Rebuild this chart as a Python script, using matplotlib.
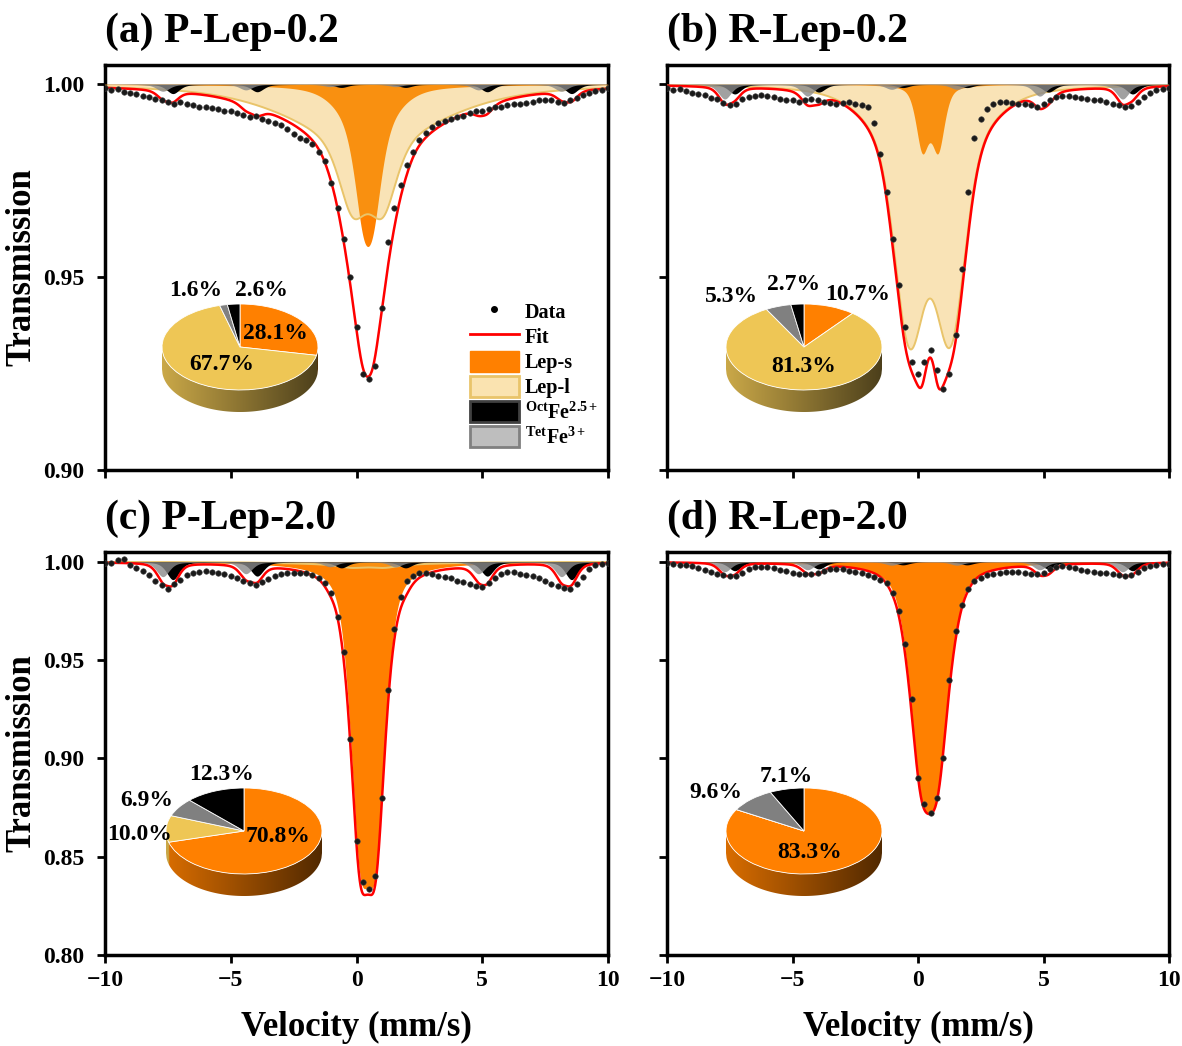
import numpy as np
import matplotlib.pyplot as plt
from matplotlib.patches import Patch, Polygon
from matplotlib.lines import Line2D
from matplotlib.colors import to_rgb

plt.rcParams['font.family'] = ['Liberation Serif', 'DejaVu Serif']
plt.rcParams['font.weight'] = 'bold'
plt.rcParams['mathtext.fontset'] = 'custom'
plt.rcParams['mathtext.rm'] = 'Liberation Serif:bold'
plt.rcParams['mathtext.bf'] = 'Liberation Serif:bold'
plt.rcParams['mathtext.it'] = 'Liberation Serif:bold'
plt.rcParams['mathtext.default'] = 'rm'

W, H = 1182, 1046

titles = ['(a) P-Lep-0.2', '(b) R-Lep-0.2', '(c) P-Lep-2.0', '(d) R-Lep-2.0']

data_a = [.9990, .9985, .9988, .9980, .9978, .9975, .9970, .9968, .9962,
          .9958, .9955, .9950, .9955, .9948, .9945, .9942, .9940, .9938,
          .9935, .9930, .9932, .9925, .9920, .9915, .9918, .9910, .9905,
          .9900, .9895, .9885, .9870, .9860, .9855, .9845, .9825, .9800,
          .9745, .9680, .9600, .9500, .9370, .9250, .9235, .9270, .9420,
          .9590, .9680, .9740, .9790, .9825, .9855, .9875, .9890, .9900,
          .9905, .9910, .9915, .9918, .9925, .9930, .9932, .9935, .9940,
          .9942, .9945, .9948, .9950, .9952, .9955, .9958, .9960, .9958,
          .9955, .9952, .9958, .9965, .9972, .9978, .9982, .9985, .9990]
data_b = [.9990, .9985, .9988, .9982, .9978, .9975, .9972, .9965, .9962,
          .9952, .9945, .9950, .9962, .9968, .9970, .9972, .9970, .9966,
          .9962, .9960, .9958, .9955, .9958, .9962, .9960, .9955, .9952,
          .9950, .9952, .9953, .9948, .9945, .9940, .9900, .9820, .9720,
          .9600, .9480, .9370, .9280, .9250, .9280, .9310, .9260, .9210,
          .9250, .9350, .9520, .9720, .9860, .9910, .9935, .9950, .9955,
          .9955, .9952, .9950, .9948, .9945, .9942, .9948, .9958, .9966,
          .9970, .9970, .9968, .9965, .9962, .9960, .9958, .9955, .9950,
          .9946, .9942, .9944, .9955, .9968, .9978, .9984, .9988, .9990]
data_c = [.9992, .9995, 1.0008, 1.0012, .9985, .9970, .9955, .9935, .9905,
          .9880, .9860, .9885, .9910, .9932, .9945, .9950, .9952, .9948,
          .9945, .9938, .9930, .9918, .9905, .9890, .9882, .9895, .9912,
          .9928, .9936, .9942, .9945, .9944, .9942, .9932, .9918, .9890,
          .9840, .9720, .9540, .9100, .8580, .8370, .8335, .8400, .8800,
          .9350, .9660, .9820, .9900, .9930, .9944, .9942, .9938, .9930,
          .9925, .9918, .9905, .9895, .9888, .9878, .9872, .9890, .9918,
          .9940, .9948, .9946, .9940, .9935, .9930, .9920, .9905, .9888,
          .9875, .9865, .9862, .9885, .9925, .9962, .9982, .9988, .9992]
data_d = [.9992, .9988, .9985, .9982, .9978, .9970, .9960, .9950, .9940,
          .9932, .9926, .9930, .9945, .9962, .9972, .9976, .9975, .9968,
          .9960, .9952, .9945, .9940, .9937, .9936, .9942, .9955, .9964,
          .9966, .9962, .9955, .9948, .9942, .9935, .9925, .9910, .9890,
          .9840, .9750, .9580, .9300, .8900, .8770, .8720, .8800, .9000,
          .9400, .9650, .9780, .9860, .9900, .9920, .9932, .9940, .9945,
          .9948, .9948, .9946, .9942, .9940, .9938, .9945, .9962, .9975,
          .9978, .9975, .9968, .9960, .9952, .9948, .9945, .9942, .9938,
          .9932, .9926, .9932, .9950, .9968, .9978, .9984, .9987, .9988]

# fitted subspectra: (centre mm/s, half width mm/s, depth, lorentzian share)
a_lep_s = [(0.25, 0.42, 0.018, .5), (0.65, 0.42, 0.018, .5), (0.45, 1.1, 0.012, .5)]
a_lep_l = [(-0.15, 0.65, 0.018, .5), (1.05, 0.65, 0.018, .5), (0.45, 3.5, 0.014, .5)]
b_lep_s = [(0.17, 0.3, 0.0161, .5), (0.80, 0.3, 0.0161, .5)]
b_lep_l = [(-0.35, 0.65, 0.044, .15), (1.30, 0.65, 0.044, .15),
           (0.45, 1.9, 0.023, .15), (0.45, 3.5, 0.003, .5)]
c_lep_s = [(0.12, 0.45, 0.124, .5), (0.78, 0.45, 0.124, .5)]
c_lep_l = [(-0.2, 0.6, 0.0015, .5), (1.1, 0.6, 0.0015, .5), (0.45, 3.0, 0.0015, .5)]
d_lep_s = [(0.1, 0.55, 0.0873, .5), (0.8, 0.55, 0.0873, .5)]
d_lep_l = []

# sextets: line positions, relative intensities, outer-line depth per sample
tet_pos = [-7.7, -4.4, -1.05, 1.55, 4.85, 8.15]
oct_pos = [-7.3, -3.95, -0.6, 1.95, 5.2, 8.55]
sextet_ratio = [3, 2.4, 1, 1, 2.4, 3]
oct_depth = [0.0024, 0.0025, 0.009, 0.0045]
tet_depth = [0.0018, 0.0038, 0.0075, 0.005]

# pie fractions (%), clockwise from top: Lep-s, Lep-l, TetFe3+, OctFe2.5+
pie_a = [28.1, 67.7, 1.6, 2.6]
pie_b = [10.7, 81.3, 5.3, 2.7]
pie_c = [70.8, 10.0, 6.9, 12.3]
pie_d = [83.3, 0.0, 9.6, 7.1]

LEP_S = '#FF8000'
LEP_L = '#F0B030'
LEP_L_EDGE = '#E9C46A'
TET = '#8A8A8A'
PIE_COLORS = ['#FF8000', '#EEC655', '#808080', '#000000']


def pv(v, lines):
    out = np.zeros_like(v)
    for c, w, d, eta in lines:
        x2 = ((v - c) / w) ** 2
        out += d * (eta / (1 + x2) + (1 - eta) * np.exp(-np.log(2) * x2))
    return out


def sextet(pos, depth, w=0.3):
    return [(p, w, depth * r / 3, .5) for p, r in zip(pos, sextet_ratio)]


def px_box(x0, y0, x1, y1):
    return [x0 / W, 1 - y1 / H, (x1 - x0) / W, (y1 - y0) / H]


fig = plt.figure(figsize=(W / 100, H / 100), dpi=100)

boxes = [(105, 65, 608, 470), (667, 65, 1169, 470),
         (105, 552, 608, 955), (667, 552, 1169, 955)]
datas = [data_a, data_b, data_c, data_d]
lep_s = [a_lep_s, b_lep_s, c_lep_s, d_lep_s]
lep_l = [a_lep_l, b_lep_l, c_lep_l, d_lep_l]
vv = np.linspace(-10, 10, 2001)

for i in range(4):
    ax = fig.add_axes(px_box(*boxes[i]))
    vel = np.linspace(-10, 10, len(datas[i]))
    s = pv(vv, lep_s[i])
    l = pv(vv, lep_l[i])
    o = pv(vv, sextet(oct_pos, oct_depth[i]))
    t = pv(vv, sextet(tet_pos, tet_depth[i]))
    ax.fill_between(vv, 1, 1 - s, color=LEP_S, lw=0, zorder=3)
    if l.max() > 0:
        ax.fill_between(vv, 1, 1 - l, facecolor=LEP_L, alpha=0.35, lw=0, zorder=4)
        ax.plot(vv, 1 - l, color=LEP_L_EDGE, lw=1.4, zorder=4)
    ax.fill_between(vv, 1, 1 - o, color='black', lw=0, zorder=5)
    ax.fill_between(vv, 1, 1 - t, color=TET, alpha=0.8, lw=0, zorder=5)
    ax.plot(vv, 1 - (s + l + o + t), color='red', lw=1.8, zorder=6)
    ax.plot(vel, datas[i], 'o', ms=4, color='#1a1a1a', mec='#444444', mew=0.4, zorder=7)

    ax.set_xlim(-10, 10)
    ax.set_xticks([-10, -5, 0, 5, 10])
    if i < 2:
        ax.set_ylim(0.90, 1.005)
        ax.set_yticks([0.90, 0.95, 1.00])
    else:
        ax.set_ylim(0.80, 1.005)
        ax.set_yticks([0.80, 0.85, 0.90, 0.95, 1.00])
    ax.yaxis.set_major_formatter(plt.FormatStrFormatter('%.2f'))
    ax.tick_params(direction='out', length=6, width=2, labelsize=17,
                   labelbottom=(i >= 2), labelleft=(i % 2 == 0))
    ax.tick_params(axis='y', pad=9)
    ax.tick_params(axis='x', pad=5)
    for sp in ax.spines.values():
        sp.set_linewidth(2.5)

    x0, y0, x1, y1 = boxes[i]
    fig.text(x0 / W, 1 - (y0 - 33) / H, titles[i], fontsize=30, ha='left', va='center')
    if i % 2 == 0:
        fig.text(22 / W, 1 - (y0 + y1) / 2 / H, 'Transmission', fontsize=25,
                 rotation=90, ha='center', va='center')
    if i >= 2:
        fig.text((x0 + x1) / 2 / W, 1 - 1027 / H, 'Velocity (mm/s)', fontsize=25,
                 ha='center', va='center')

    if i == 0:
        handles = [Line2D([], [], marker='o', ls='none', color='black', ms=4),
                   Line2D([], [], color='red', lw=2),
                   Patch(facecolor=LEP_S, edgecolor=LEP_S),
                   Patch(facecolor='#FAE3B0', edgecolor=LEP_L_EDGE, lw=2),
                   Patch(facecolor='black', edgecolor='#404040', lw=2),
                   Patch(facecolor='#BEBEBE', edgecolor='#808080', lw=2)]
        labels = ['Data', 'Fit', 'Lep-s', 'Lep-l', r'$^{Oct}$Fe$^{2.5+}$', r'$^{Tet}$Fe$^{3+}$']
        ax.legend(handles, labels, loc='upper left', bbox_to_anchor=(0.726, 0.418),
                  frameon=False, fontsize=14.5, handlelength=2.4, handleheight=1.2,
                  labelspacing=0.15, handletextpad=0.3, borderpad=0, borderaxespad=0)


def draw_pie(cx, cy, vals, rx=78, ry=43, depth=22):
    pax = fig.add_axes([(cx - rx) / W, 1 - (cy + ry + depth) / H,
                        2 * rx / W, (2 * ry + depth) / H])
    dep = depth / ry
    xs = np.linspace(-1, 1, 300)
    ang = np.degrees(np.arctan2(-np.sqrt(np.clip(1 - xs ** 2, 0, None)), xs))
    edges = 90 - 3.6 * np.concatenate([[0], np.cumsum(vals)])
    base = np.array([to_rgb(c) for c in PIE_COLORS])
    idx = [next(k for k in range(len(vals)) if edges[k + 1] <= a <= edges[k]) for a in ang]
    shade = np.interp(xs, [-1, 1], [0.85, 0.32])
    img = (base[idx] * shade[:, None])[None, :, :]
    top = -np.sqrt(np.clip(1 - xs ** 2, 0, None))
    poly = Polygon(np.column_stack([np.r_[xs, xs[::-1]], np.r_[top, (top - dep)[::-1]]]),
                   closed=True, transform=pax.transData)
    im = pax.imshow(img, extent=(-1, 1, -1 - dep, 0), aspect='auto',
                    interpolation='bilinear', origin='lower')
    im.set_clip_path(poly)
    wedges, _ = pax.pie(vals, colors=PIE_COLORS, startangle=90, counterclock=False,
                        radius=1, wedgeprops=dict(edgecolor='white', linewidth=0.6))
    for w in wedges:
        w.set_clip_on(False)
    pax.set_xlim(-1, 1)
    pax.set_ylim(-1 - dep, 1)
    pax.set_aspect('auto')
    pax.axis('off')


pies = [pie_a, pie_b, pie_c, pie_d]
pie_centres = [(240, 347), (804, 347), (244, 831), (804, 831)]
# label positions (px) for Lep-s, Lep-l, Tet, Oct
pie_label_pos = [
    [(275, 333), (222, 364), (196, 291), (262, 291)],
    [(858, 295), (804, 367), (731, 297), (794, 284)],
    [(278, 836), (140, 834), (147, 800), (222, 775)],
    [(810, 853), None, (716, 793), (786, 776)],
]
for vals, (cx, cy), lpos in zip(pies, pie_centres, pie_label_pos):
    draw_pie(cx, cy, vals)
    for v, p in zip(vals, lpos):
        if p is None or v == 0:
            continue
        fig.text(p[0] / W, 1 - p[1] / H, f'{v:.1f}%', fontsize=17,
                 ha='center', va='center', zorder=20)

fig.savefig('out.png', dpi=100)
